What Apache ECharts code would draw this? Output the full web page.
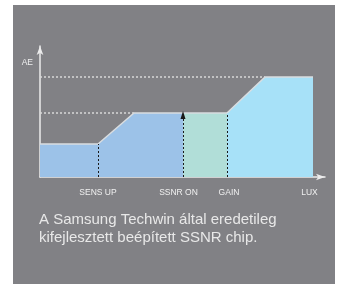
<!DOCTYPE html>
<html>
<head>
<meta charset="utf-8">
<script src="https://cdn.jsdelivr.net/npm/echarts@6/dist/echarts.min.js"></script>
<style>
  html, body { margin: 0; padding: 0; background: #ffffff; }
  #chart { width: 356px; height: 284px; }
</style>
</head>
<body>
<div id="chart"></div>
<script>
// x positions along LUX axis, y = AE level
var sensUpData = [[0, 33], [58, 33], [94, 64], [143, 64]];
var ssnrData = [[143, 64], [187, 64]];
var gainData = [[187, 64], [225, 100], [273, 100]];
var upperGuide = [[0, 100], [225, 100]];
var middleGuide = [[0, 64], [94, 64]];
var xTickValues = [58, 138.5, 189, 269.5];
var xTickLabels = ['SENS UP', 'SSNR ON', 'GAIN', 'LUX'];
var caption = 'A Samsung Techwin által eredetileg\nkifejlesztett beépített SSNR chip.';

var chart = echarts.init(document.getElementById('chart'));

var edge = { color: '#d9dde0', width: 1.5 };

var options = {
    animation: false,
    backgroundColor: '#ffffff',
    graphic: [{
        type: 'rect',
        z: -10,
        shape: { x: 13, y: 5, width: 322, height: 280 },
        style: { fill: '#818185' }
    }],
    title: {
        text: caption,
        left: 34,
        top: 206,
        textStyle: { color: '#e8e8e8', fontSize: 15, fontWeight: 'normal', fontFamily: 'Liberation Sans', lineHeight: 18 }
    },
    grid: { left: 40, right: 31, top: 46, bottom: 107 },
    xAxis: {
        type: 'value', min: 0, max: 285,
        splitLine: { show: false },
        axisTick: { show: false },
        axisLine: { lineStyle: { color: '#ececec', width: 1.5 }, symbol: ['none', 'arrow'], symbolSize: [5, 9] },
        axisLabel: {
            customValues: xTickValues,
            color: '#f0f0f0', fontSize: 8.5, fontFamily: 'Liberation Sans', margin: 11,
            formatter: function (v) { return xTickLabels[xTickValues.indexOf(v)]; }
        }
    },
    yAxis: {
        type: 'value', min: 0, max: 131,
        splitLine: { show: false },
        axisTick: { show: false },
        axisLine: { show: true, lineStyle: { color: '#ececec', width: 1.5 }, symbol: ['none', 'arrow'], symbolSize: [5, 9] },
        axisLabel: {
            customValues: [114],
            color: '#f0f0f0', fontSize: 8.5, fontFamily: 'Liberation Sans', margin: 7,
            formatter: function () { return 'AE'; }
        }
    },
    series: [
        {
            type: 'line', data: sensUpData, symbol: 'none', z: 2,
            lineStyle: edge, areaStyle: { color: '#9cc2e8', opacity: 1 }
        },
        {
            type: 'line', data: ssnrData, symbol: 'none', z: 2,
            lineStyle: edge, areaStyle: { color: '#b1ded8', opacity: 1 }
        },
        {
            type: 'line', data: gainData, symbol: 'none', z: 2,
            lineStyle: edge, areaStyle: { color: '#a7e1f8', opacity: 1 }
        },
        {
            type: 'line', data: upperGuide, symbol: 'none', z: 3,
            lineStyle: { color: '#d8d8d8', width: 1.5, type: [2, 2] }
        },
        {
            type: 'line', data: middleGuide, symbol: 'none', z: 3,
            lineStyle: { color: '#d8d8d8', width: 1.5, type: [2, 2] }
        },
        {
            type: 'line', data: [], z: 4,
            markLine: {
                silent: true,
                label: { show: false },
                lineStyle: { color: '#1a1a1a', width: 1, type: [2, 2] },
                data: [
                    [{ coord: [58, 0], symbol: 'none' }, { coord: [58, 33], symbol: 'none' }],
                    [{ coord: [143, 0], symbol: 'none' }, { coord: [143, 62], symbol: 'triangle', symbolSize: [5, 8] }],
                    [{ coord: [187, 0], symbol: 'none' }, { coord: [187, 64], symbol: 'none' }]
                ]
            }
        }
    ]
};

chart.setOption(options);
</script>
</body>
</html>
